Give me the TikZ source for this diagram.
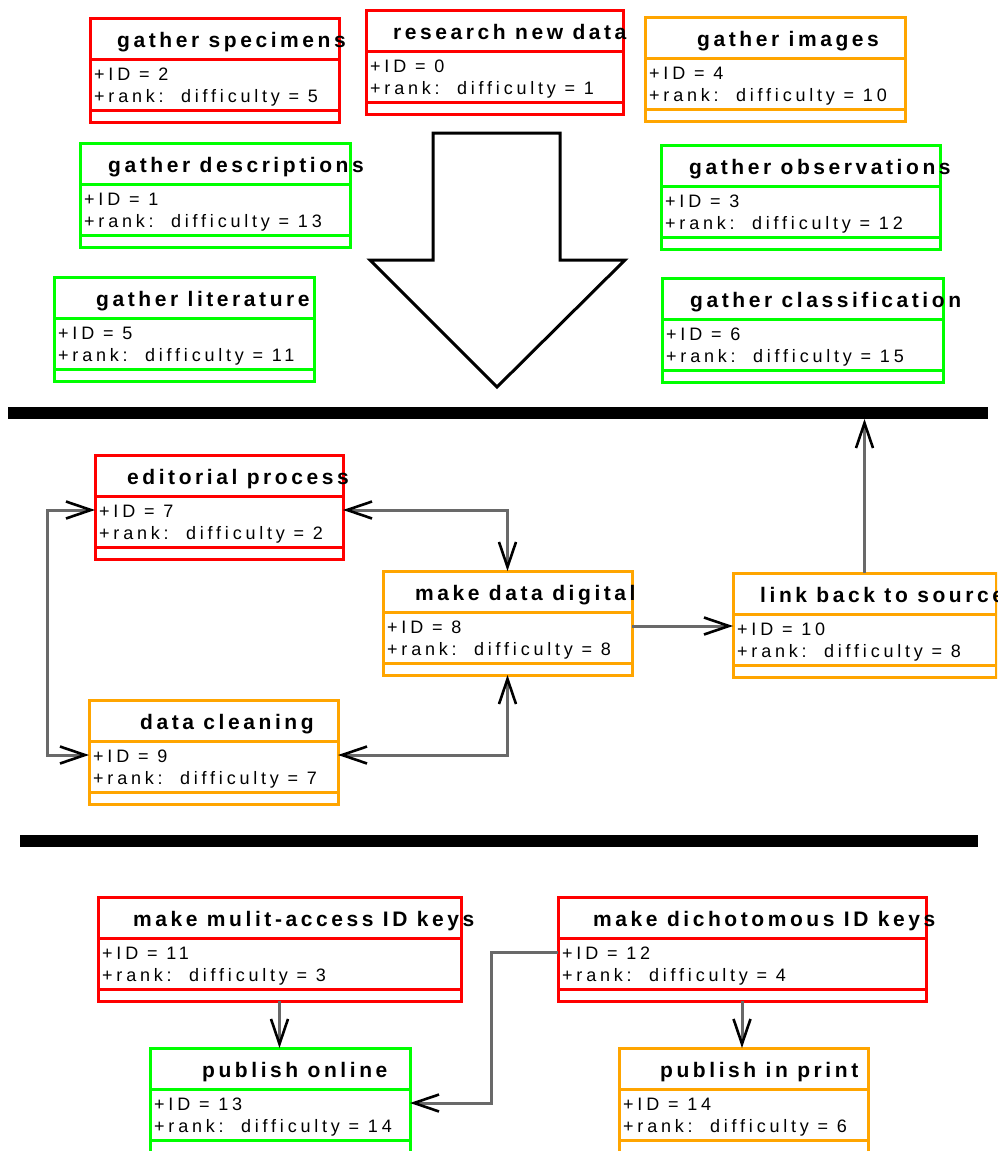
\documentclass[tikz,border=0pt]{standalone}
\usepackage{fontspec}
\setmainfont{Liberation Sans}
\usetikzlibrary{arrows.meta,calc}

\definecolor{umlred}{RGB}{255,0,0}
\definecolor{umlorange}{RGB}{255,165,0}
\definecolor{umlgreen}{RGB}{0,255,0}
\definecolor{wiregray}{RGB}{105,105,105}

\tikzset{
  classbox/.style={rectangle, line width=3pt, minimum height=104pt,
    inner sep=0pt, outer sep=0pt},
  sepline/.style={line width=3pt},
  titletext/.style={font=\fontsize{21}{24}\selectfont\bfseries\addfontfeature{LetterSpace=17},
    inner sep=0pt},
  attrtext/.style={font=\fontsize{18}{20}\selectfont\addfontfeature{LetterSpace=21},
    inner sep=0pt},
  wire/.style={draw=wiregray, line width=3pt},
  endbarb/.style={-{Straight Barb[length=25pt,width=17pt,line width=2.6pt,color=black]}},
  bothbarb/.style={{Straight Barb[length=25pt,width=17pt,line width=2.6pt,color=black]}-{Straight Barb[length=25pt,width=17pt,line width=2.6pt,color=black]}},
  bar/.style={fill=black, rectangle, minimum height=12pt, inner sep=0pt, outer sep=0pt, anchor=north west}
}

% class box: name, left, top, width, colour, title left, title, id, difficulty
\newcommand\umlclassbox[9]{%
  \node[classbox, draw=#5, minimum width=#4pt, anchor=north west] (#1) at (#2,#3) {};
  \draw[#5, sepline] ($(#1.north west)+(0,41)$) -- ($(#1.north east)+(0,41)$);
  \draw[#5, sepline] ($(#1.north west)+(0,92)$) -- ($(#1.north east)+(0,92)$);
  \node[titletext, anchor=base west] (#1-t) at (#6,#3+29) {#7};
  \node[attrtext, anchor=base west] (#1-id) at ($(#1.north west)+(4,62)$) {+ID = #8};
  \node[attrtext, anchor=base west] (#1-rk) at ($(#1.north west)+(4,84)$) {+rank:\ \ difficulty = #9};
}

\begin{document}
\begin{tikzpicture}[x=1pt,y=-1pt]
\useasboundingbox (0,0) rectangle (997,1151);
\clip (0,0) rectangle (997,1151);

% gathering tasks
\umlclassbox{gs}{90}{18}{249}{umlred}{117}{gather specimens}{2}{5}
\umlclassbox{rn}{366}{10}{257}{umlred}{393}{research new data}{0}{1}
\umlclassbox{gi}{645}{17}{260}{umlorange}{697}{gather images}{4}{10}
\umlclassbox{gd}{80}{143}{270}{umlgreen}{108}{gather descriptions}{1}{13}
\umlclassbox{go}{661}{145}{279}{umlgreen}{689}{gather observations}{3}{12}
\umlclassbox{gl}{54}{277}{260}{umlgreen}{96}{gather literature}{5}{11}
\umlclassbox{gc}{662}{278}{281}{umlgreen}{690}{gather classification}{6}{15}

% big downward arrow
\draw[line width=3pt, line join=miter] (433,133) -- (560,133) -- (560,260) -- (625,260)
  -- (497,387) -- (370,260) -- (433,260) -- cycle;

% separators
\node[bar, minimum width=980pt] (bar1) at (8,407) {};
\node[bar, minimum width=958pt] (bar2) at (20,835) {};

% processing tasks
\umlclassbox{ep}{95}{455}{248}{umlred}{127}{editorial process}{7}{2}
\umlclassbox{dig}{383}{571}{249}{umlorange}{415}{make data digital}{8}{8}
\umlclassbox{lnk}{733}{573}{263}{umlorange}{760}{link back to source}{10}{8}
\umlclassbox{cl}{89}{700}{249}{umlorange}{140}{data cleaning}{9}{7}

% publishing tasks
\umlclassbox{mk}{98}{897}{363}{umlred}{133}{make mulit-access ID keys}{11}{3}
\umlclassbox{dk}{558}{897}{368}{umlred}{593}{make dichotomous ID keys}{12}{4}
\umlclassbox{po}{150}{1048}{260}{umlgreen}{202}{publish online}{13}{14}
\umlclassbox{pp}{619}{1048}{249}{umlorange}{660}{publish in print}{14}{6}

% connectors
\draw[wire, bothbarb] ($(ep.north east)+(0,55)$) -| (dig.north);
\draw[wire, bothbarb] ($(ep.north west)+(0,55)$) -- ++(-48,0) |- ($(cl.north west)+(0,55)$);
\draw[wire, bothbarb] ($(cl.north east)+(0,55)$) -| (dig.south);
\coordinate (dl) at ($(dig.north east)+(0,55)$);
\draw[wire, endbarb] (dl) -- (dl -| lnk.west);
\draw[wire, endbarb] (lnk.north) -- (lnk.north |- bar1.south);
\draw[wire, endbarb] (mk.south) -- (mk.south |- po.north);
\draw[wire, endbarb] ($(dk.north west)+(0,55)$) -- ++(-67,0) |- ($(po.north east)+(0,55)$);
\draw[wire, endbarb] (dk.south) -- (dk.south |- pp.north);
\end{tikzpicture}
\end{document}
